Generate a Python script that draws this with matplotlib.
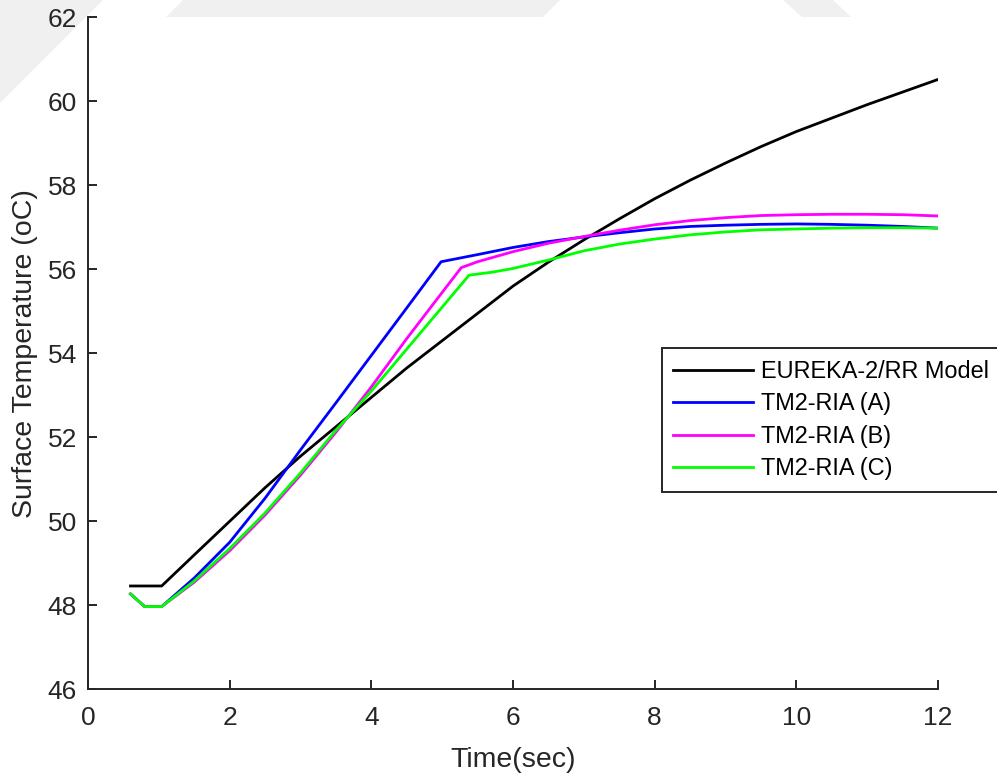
import matplotlib
matplotlib.use("Agg")
import matplotlib.pyplot as plt
from matplotlib.patches import Polygon

plt.rcParams['font.family'] = ['Liberation Sans', 'DejaVu Sans']

# ---- data ----
x_eureka = [0.6, 1.04, 1.5, 2.0, 2.5, 3.0, 3.5, 4.0, 4.5, 5.0, 5.5, 6.0, 6.5, 7.0,
            7.5, 8.0, 8.5, 9.0, 9.5, 10.0, 10.5, 11.0, 11.5, 12.0]
y_eureka = [48.46, 48.46, 49.2, 50.0, 50.8, 51.55, 52.25, 52.95, 53.65, 54.3, 54.95,
            55.6, 56.17, 56.7, 57.2, 57.68, 58.12, 58.53, 58.92, 59.28, 59.6, 59.92,
            60.22, 60.52]

x_a = [0.6, 0.8, 1.04, 1.5, 2.0, 2.5, 3.0, 3.5, 4.0, 4.5, 4.985, 5.5, 6.0, 6.5, 7.0,
       7.5, 8.0, 8.5, 9.0, 9.5, 10.0, 10.5, 11.0, 11.5, 12.0]
y_a = [48.27, 47.97, 47.97, 48.65, 49.5, 50.55, 51.7, 52.82, 53.95, 55.08, 56.18,
       56.35, 56.52, 56.66, 56.77, 56.87, 56.96, 57.02, 57.05, 57.07, 57.08, 57.07,
       57.05, 57.02, 56.98]

x_b = [0.6, 0.8, 1.04, 1.5, 2.0, 2.5, 3.0, 3.5, 4.0, 4.5, 5.0, 5.27, 5.5, 6.0, 6.5,
       7.0, 7.5, 8.0, 8.5, 9.0, 9.5, 10.0, 10.5, 11.0, 11.5, 12.0]
y_b = [48.27, 47.97, 47.97, 48.55, 49.3, 50.15, 51.1, 52.12, 53.2, 54.35, 55.45,
       56.04, 56.18, 56.42, 56.62, 56.78, 56.93, 57.06, 57.16, 57.23, 57.28, 57.3,
       57.31, 57.31, 57.3, 57.27]

x_c = [0.6, 0.8, 1.04, 1.5, 2.0, 2.5, 3.0, 3.5, 4.0, 4.5, 5.0, 5.38, 5.7, 6.0, 6.5,
       7.0, 7.5, 8.0, 8.5, 9.0, 9.5, 10.0, 10.5, 11.0, 11.5, 12.0]
y_c = [48.27, 47.97, 47.97, 48.58, 49.35, 50.2, 51.15, 52.17, 53.1, 54.1, 55.1,
       55.86, 55.93, 56.02, 56.22, 56.44, 56.6, 56.72, 56.82, 56.89, 56.94, 56.96,
       56.98, 56.99, 56.99, 56.98]

labels = ['EUREKA-2/RR Model', 'TM2-RIA (A)', 'TM2-RIA (B)', 'TM2-RIA (C)']
colors = ['#000000', '#0000ff', '#ff00ff', '#00ff00']
xticks = [0, 2, 4, 6, 8, 10, 12]
yticks = [46, 48, 50, 52, 54, 56, 58, 60, 62]

W, H = 997, 776
fig = plt.figure(figsize=(W / 100, H / 100), dpi=100)

# faint watermark shapes behind everything (figure pixel coords)
def px(pts):
    return [(x / W, 1 - y / H) for x, y in pts]
for pts in ([(0, 0), (103, 0), (0, 103)],
            [(165, 18), (183, 0), (560, 0), (542, 18)],
            [(783, 0), (833, 0), (852, 18), (803, 18)]):
    fig.patches.append(Polygon(px(pts), closed=True, transform=fig.transFigure,
                               facecolor='#f0f0f0', edgecolor='none', zorder=-5))

ax = fig.add_axes([88 / W, 1 - 689.3 / H, (938 - 88) / W, (689.3 - 17.3) / H])
ax.set_zorder(1)
ax.set_facecolor('white')

series = [(x_eureka, y_eureka), (x_a, y_a), (x_b, y_b), (x_c, y_c)]
for (xs, ys), lab, c in zip(series, labels, colors):
    ax.plot(xs, ys, color=c, lw=2.0, label=lab)

ax.set_xlim(0, 12)
ax.set_ylim(46, 62)
ax.set_xticks(xticks)
ax.set_yticks(yticks)
tc = '#262626'
for s in ['top', 'right']:
    ax.spines[s].set_visible(False)
for s in ['left', 'bottom']:
    ax.spines[s].set_color(tc)
    ax.spines[s].set_linewidth(1.4)
ax.tick_params(direction='in', length=6.5, width=1.4, color=tc,
               labelcolor=tc, labelsize=19)
ax.tick_params(axis='x', pad=12)
ax.tick_params(axis='y', pad=8)
ax.set_xlabel('Time(sec)', fontsize=20.5, color=tc, labelpad=12)
ax.set_ylabel('Surface Temperature (oC)', fontsize=20.5, color=tc, labelpad=7)

leg = ax.legend(loc='upper left', bbox_to_anchor=(661.7 / W, 1 - 348.3 / H),
                bbox_transform=fig.transFigure, borderaxespad=0,
                fontsize=16.9, handlelength=3.4, handletextpad=0.35,
                labelspacing=0.4, borderpad=0.5, fancybox=False,
                framealpha=1, edgecolor='#262626')
leg.get_frame().set_linewidth(1.4)

fig.savefig('out.png', dpi=100)
